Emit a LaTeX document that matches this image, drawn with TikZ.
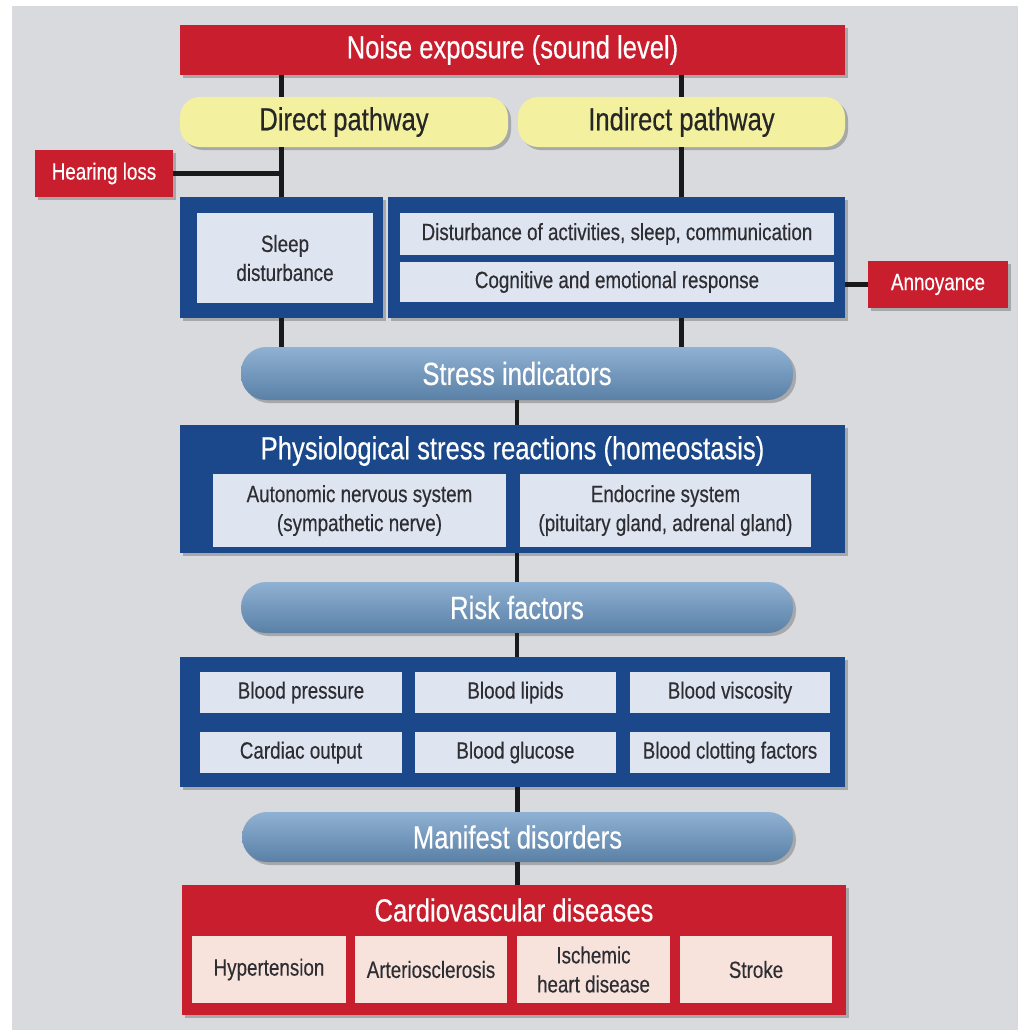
\documentclass[tikz,border=0pt]{standalone}
\usepackage{fontspec}
\setmainfont{Liberation Sans}[FakeStretch=0.8,FakeBold=0.35]
\usetikzlibrary{shadows}
\definecolor{bgc}{RGB}{216,218,221}
\definecolor{redc}{RGB}{200,30,45}
\definecolor{navy}{RGB}{27,72,138}
\definecolor{lightc}{RGB}{222,228,240}
\definecolor{yell}{RGB}{243,240,160}
\definecolor{steel}{RGB}{106,151,196}
\definecolor{pinkc}{RGB}{247,227,220}
\definecolor{darktext}{RGB}{45,45,50}
\tikzset{
  sh/.style={drop shadow={shadow xshift=3pt,shadow yshift=-3pt,opacity=0.35,fill=black!70}},
  bigfont/.style={font=\fontsize{32}{36}\selectfont},
  smallfont/.style={font=\fontsize{23.5}{29}\selectfont},
  base/.style={inner sep=0pt, align=center, draw=none},
  redbox/.style={base, sh, fill=redc, text=white},
  framebox/.style={base, sh, fill=navy},
  innerbox/.style={base, fill=lightc, text=darktext, smallfont},
  pinkbox/.style={base, fill=pinkc, text=darktext, smallfont},
  pathbox/.style={base, sh, fill=yell, text=black!85, rounded corners=20pt, bigfont},
  stressbox/.style={base, sh, top color=steel!75!white, bottom color=steel!85!black, text=white, rounded corners=25pt, bigfont},
  conn/.style={line width=4.5pt, black!90},
}
\begin{document}
\begin{tikzpicture}[x=1pt,y=-1pt]
\useasboundingbox (0,0) rectangle (1018,1030);
\fill[white] (0,0) rectangle (1018,1030);
\fill[bgc] (12,6) rectangle (1018,1030);

% top
\node[redbox, bigfont, minimum width=665pt, minimum height=50pt] (noise) at (512.5,50) {Noise exposure (sound level)};
\node[pathbox, minimum width=328pt, minimum height=50pt] (direct) at (344,122) {Direct pathway};
\node[pathbox, minimum width=327pt, minimum height=50pt] (indirect) at (681.5,122) {Indirect pathway};
\node[redbox, smallfont, minimum width=138pt, minimum height=47pt] (hearing) at (104,173.5) {Hearing loss};

% pathway frames
\node[framebox, minimum width=203pt, minimum height=121pt] (sleepf) at (281.5,257.5) {};
\node[innerbox, minimum width=176pt, minimum height=90pt] (sleep) at (285,258) {Sleep\\disturbance};
\node[framebox, minimum width=457pt, minimum height=121pt] (rightf) at (616.5,257.5) {};
\node[innerbox, minimum width=434pt, minimum height=42pt] (dist) at (617,234) {Disturbance of activities, sleep, communication};
\node[innerbox, minimum width=434pt, minimum height=40pt] (cogn) at (617,282) {Cognitive and emotional response};
\node[redbox, smallfont, minimum width=140pt, minimum height=47pt] (annoy) at (938,284.5) {Annoyance};

% stress
\node[stressbox, minimum width=552pt, minimum height=53pt] (stress) at (517,373.5) {Stress indicators};

% physiological
\node[framebox, minimum width=665pt, minimum height=128pt] (phys) at (512.5,489) {};
\node[base, bigfont, text=white] (physt) at (512.5,451) {Physiological stress reactions (homeostasis)};
\node[innerbox, minimum width=293pt, minimum height=73pt] (auto) at (359.5,510.5) {Autonomic nervous system\\(sympathetic nerve)};
\node[innerbox, minimum width=291pt, minimum height=73pt] (endo) at (665.5,510.5) {Endocrine system\\(pituitary gland, adrenal gland)};

% risk factors
\node[stressbox, minimum width=552pt, minimum height=51pt] (riskf) at (517,607.5) {Risk factors};
\node[framebox, minimum width=665pt, minimum height=130pt] (riskbox) at (512.5,722) {};
\node[innerbox, minimum width=202pt, minimum height=41pt] (bp) at (301,692.5) {Blood pressure};
\node[innerbox, minimum width=201pt, minimum height=41pt] (bl) at (515.5,692.5) {Blood lipids};
\node[innerbox, minimum width=200pt, minimum height=41pt] (bv) at (730,692.5) {Blood viscosity};
\node[innerbox, minimum width=202pt, minimum height=41pt] (co) at (301,752.5) {Cardiac output};
\node[innerbox, minimum width=201pt, minimum height=41pt] (bg) at (515.5,752.5) {Blood glucose};
\node[innerbox, minimum width=200pt, minimum height=41pt] (bc) at (730,752.5) {Blood clotting factors};

% manifest
\node[stressbox, minimum width=551pt, minimum height=50pt] (manifest) at (517.5,837) {Manifest disorders};

% cardiovascular
\node[redbox, minimum width=664pt, minimum height=130pt] (cardio) at (514,950) {};
\node[base, bigfont, text=white] (cardiot) at (514,910) {Cardiovascular diseases};
\node[pinkbox, minimum width=154pt, minimum height=67pt] (hyp) at (269,969.5) {Hypertension};
\node[pinkbox, minimum width=152pt, minimum height=67pt] (art) at (431,969.5) {Arteriosclerosis};
\node[pinkbox, minimum width=153pt, minimum height=67pt] (isch) at (593.5,969.5) {Ischemic\\heart disease};
\node[pinkbox, minimum width=152pt, minimum height=67pt] (stroke) at (756,969.5) {Stroke};

% connectors
\draw[conn] (noise.south -| sleepf.north) -- (direct.north -| sleepf.north);
\draw[conn] (direct.south -| sleepf.north) -- (sleepf.north);
\draw[conn] (noise.south -| indirect.north) -- (indirect.north);
\draw[conn] (indirect.south) -- (indirect.south |- rightf.north);
\draw[conn] (hearing.east) -- (hearing.east -| sleepf.north);
\draw[conn] (rightf.east |- annoy.west) -- (annoy.west);
\draw[conn] (sleepf.south) -- (sleepf.south |- stress.north);
\draw[conn] (rightf.south -| indirect.south) -- (stress.north -| indirect.south);
\draw[conn] (stress.south) -- (stress.south |- phys.north);
\draw[conn] (phys.south -| riskf.north) -- (riskf.north);
\draw[conn] (riskf.south) -- (riskf.south |- riskbox.north);
\draw[conn] (riskbox.south -| manifest.north) -- (manifest.north);
\draw[conn] (manifest.south) -- (manifest.south |- cardio.north);
\end{tikzpicture}
\end{document}
